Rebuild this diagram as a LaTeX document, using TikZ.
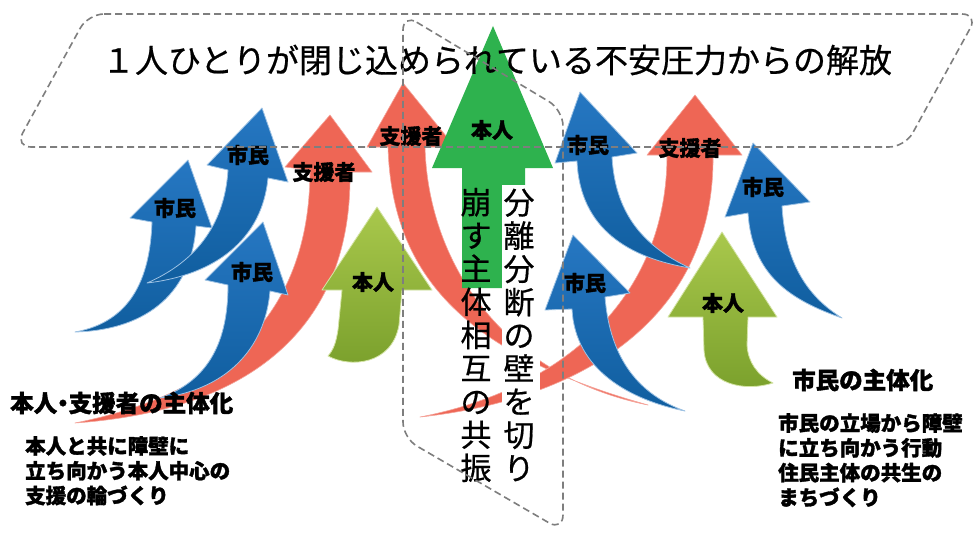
\documentclass[tikz,border=0pt]{standalone}
\usepackage{fontspec}
\newfontfamily\jp{Noto Sans CJK JP}
\definecolor{bluetop}{HTML}{2677C2}
\definecolor{bluebot}{HTML}{105E9F}
\definecolor{redfill}{HTML}{EE6655}
\definecolor{bigg}{HTML}{2EB24E}
\definecolor{ygtop}{HTML}{A9C84C}
\definecolor{ygbot}{HTML}{7AA02C}
\definecolor{dashc}{HTML}{7E7E7E}
\tikzset{
  bluearrow/.style={top color=bluetop, bottom color=bluebot, draw=white!55!bluetop, line width=0.8pt, line join=round},
  redarrow/.style={fill=redfill, draw=white!40!redfill, line width=0.6pt, line join=round},
  ygarrow/.style={top color=ygtop, bottom color=ygbot, draw=white!50!ygtop, line width=0.8pt, line join=round},
  bigarrow/.style={fill=bigg},
  lbl/.style={font=\jp\bfseries\addfontfeatures{FakeBold=1.6}\fontsize{21}{21}\selectfont, inner sep=0pt},
  dashshape/.style={draw=dashc, line width=1.6pt, dash pattern=on 7pt off 4pt, rounded corners=16pt},
  vtext/.style={font=\jp\addfontfeatures{FakeBold=0.6}\fontsize{31}{33.2}\selectfont, align=center, inner sep=0pt},
  headtxt/.style={font=\jp\bfseries\addfontfeatures{FakeBold=1.6}\fontsize{23.5}{23.5}\selectfont, anchor=west, inner sep=0pt},
  bodytxt/.style={font=\jp\bfseries\addfontfeatures{FakeBold=1.6}\fontsize{20.5}{24.8}\selectfont, anchor=north west, align=left, inner sep=0pt}
}
\begin{document}
\begin{tikzpicture}[x=1pt,y=-1pt]
\useasboundingbox (0,0) rectangle (980,535);
\fill[white] (0,0) rectangle (980,535);
% red arrows (back)
\path[redarrow] (75,423) .. controls (240,390) and (310,300) .. (310,170) -- (285,167) -- (330,115) -- (372,172) -- (350,172) .. controls (352,320) and (260,410) .. (75,423) -- cycle;
\path[redarrow] (648,405) .. controls (470,355) and (392,280) .. (388,147) -- (367,147) -- (403,83) -- (455,147) -- (425,147) .. controls (428,260) and (500,375) .. (648,405) -- cycle;
\path[redarrow] (420,417) .. controls (560,390) and (667,300) .. (667,155) -- (647,155) -- (695,95) -- (742,155) -- (713,155) .. controls (715,320) and (580,400) .. (420,417) -- cycle;
% big green arrow
\path[bigarrow] (432,168) -- (493,26) -- (553,168) -- (525,168) -- (525,288) -- (462,288) -- (462,168) -- cycle;
% left blue arrows
\path[bluearrow] (75,332) .. controls (130,322) and (150,280) .. (152,222) -- (130,218) -- (188,160) -- (212,228) -- (196,226) .. controls (192,290) and (150,330) .. (75,332) -- cycle;
\path[bluearrow] (147,283) .. controls (200,260) and (225,220) .. (228,170) -- (207,165) -- (262,108) -- (288,182) -- (268,178) .. controls (262,240) and (215,275) .. (147,283) -- cycle;
\path[bluearrow] (160,398) .. controls (210,380) and (228,340) .. (228,285) -- (205,280) -- (263,222) -- (288,295) -- (270,291) .. controls (265,350) and (225,390) .. (160,398) -- cycle;
% right blue arrows
\path[bluearrow] (555,163) -- (580,92) -- (637,153) -- (612,157) .. controls (615,210) and (640,245) .. (690,268) .. controls (630,258) and (580,230) .. (577,161) -- cycle;
\path[bluearrow] (545,310) -- (573,235) -- (630,293) -- (605,297) .. controls (610,360) and (640,395) .. (685,411) .. controls (630,400) and (575,370) .. (572,309) -- cycle;
\path[bluearrow] (725,217) -- (753,143) -- (810,202) -- (782,206) .. controls (785,260) and (805,295) .. (842,318) .. controls (790,300) and (752,275) .. (748,213) -- cycle;
% yellow-green arrows
\path[ygarrow] (322,290) -- (377,207) -- (432,290) -- (402,290) -- (399,325) .. controls (392,365) and (350,368) .. (328,356) .. controls (334,349) and (336,342) .. (338,330) -- (342,290) -- cycle;
\path[ygarrow] (668,317) -- (722,232) -- (777,317) -- (748,317) -- (747,345) .. controls (748,362) and (757,375) .. (773,383) .. controls (745,392) and (706,385) .. (704,350) -- (703,317) -- cycle;
% white background of right text column
\fill[white] (502,185) rectangle (540,490);
% arrow labels
\node[lbl] (la) at (175,208) {市民};
\node[lbl] (lb) at (248,155) {市民};
\node[lbl] (lc) at (252,272) {市民};
\node[lbl] (ld) at (324,172) {支援者};
\node[lbl] (le) at (373,282) {本人};
\node[lbl] (lf) at (411,136) {支援者};
\node[lbl] (lg0) at (492,130) {本人};
\node[lbl] (lh) at (588,145) {市民};
\node[lbl] (lg) at (690,148) {支援者};
\node[lbl] (lj) at (763,187) {市民};
\node[lbl] (li) at (585,283) {市民};
\node[lbl] (lk) at (723,303) {本人};
% vertical texts
\node[vtext] (vl) at (476,335) {崩\\す\\主\\体\\相\\互\\の\\共\\振};
\node[vtext] (vr) at (519,335) {分\\離\\分\\断\\の\\壁\\を\\切\\り};
% title
\node[font=\jp\addfontfeatures{FakeBold=0.6}\fontsize{33}{33}\selectfont, inner sep=0pt] (title) at (497,60) {１人ひとりが閉じ込められている不安圧力からの解放};
% bottom texts
\node[headtxt] (hl) at (10,403) {本人\hspace{-6pt}・\hspace{-6pt}支援者の主体化};
\node[bodytxt] (bl) at (25,436) {本人と共に障壁に\\立ち向かう本人中心の\\支援の輪づくり};
\node[headtxt] (hr) at (792,380) {市民の主体化};
\node[bodytxt] (br) at (778,413) {市民の立場から障壁\\に立ち向かう行動\\住民主体の共生の\\まちづくり};
% dashed shapes
\draw[dashshape] (88,14) -- (978,14) -- (905,147) -- (15,147) -- cycle;
\draw[dashshape] (403,14) -- (563,110) -- (563,531) -- (403,438) -- cycle;
\end{tikzpicture}
\end{document}
